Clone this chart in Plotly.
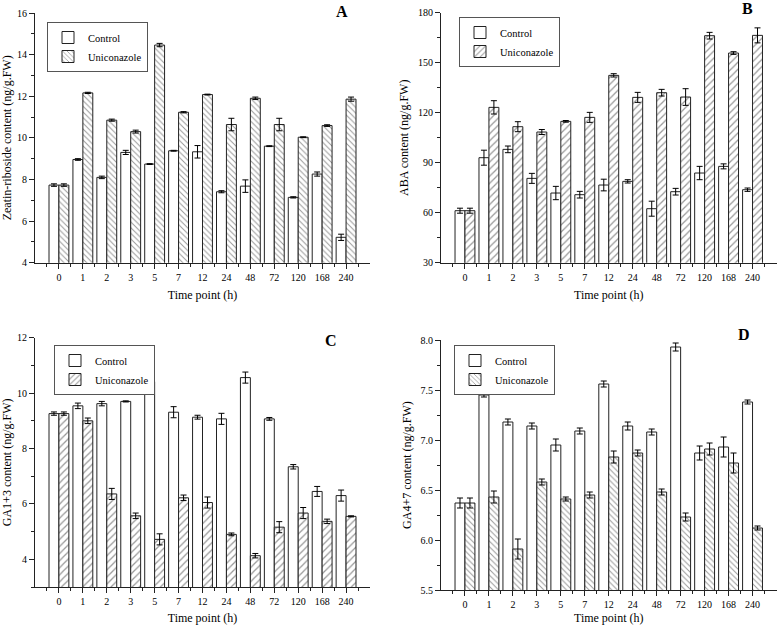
import numpy as np
import plotly.graph_objects as go

# time points (h)
times = ["0", "1", "2", "3", "5", "7", "12", "24", "48", "72", "120", "168", "240"]

# A: Zeatin-riboside
zr_ctrl = [7.73, 8.96, 8.10, 9.30, 8.74, 9.38, 9.33, 7.41, 7.68, 9.60, 7.14, 8.26, 5.22]
zr_ctrl_err = [0.06, 0.04, 0.06, 0.10, 0.02, 0.02, 0.30, 0.05, 0.30, 0.02, 0.03, 0.10, 0.15]
zr_uni = [7.73, 12.16, 10.85, 10.30, 14.46, 11.23, 12.08, 10.64, 11.90, 10.64, 10.03, 10.59, 11.86]
zr_uni_err = [0.06, 0.03, 0.05, 0.07, 0.08, 0.03, 0.02, 0.30, 0.06, 0.30, 0.02, 0.04, 0.10]

# B: ABA
aba_ctrl = [61.2, 93.0, 98.0, 80.6, 71.8, 70.8, 76.6, 78.8, 62.4, 72.6, 83.8, 87.8, 73.8]
aba_ctrl_err = [1.5, 4.5, 2.0, 3.0, 4.0, 2.0, 3.5, 1.0, 4.5, 2.0, 4.0, 1.5, 1.0]
aba_uni = [61.2, 123.2, 111.6, 108.4, 114.8, 117.2, 142.4, 129.2, 132.0, 129.4, 166.2, 155.8, 166.4]
aba_uni_err = [1.5, 4.0, 3.0, 1.5, 0.5, 3.0, 1.0, 3.0, 2.0, 5.0, 2.0, 0.8, 4.5]

# C: GA1+3
ga13_ctrl = [9.26, 9.54, 9.62, 9.70, 10.41, 9.31, 9.13, 9.07, 10.56, 9.07, 7.34, 6.45, 6.30]
ga13_ctrl_err = [0.06, 0.10, 0.08, 0.02, 0.08, 0.20, 0.07, 0.20, 0.20, 0.05, 0.08, 0.18, 0.20]
ga13_uni = [9.26, 9.00, 6.36, 5.57, 4.72, 6.22, 6.05, 4.90, 4.13, 5.16, 5.67, 5.37, 5.55]
ga13_uni_err = [0.06, 0.10, 0.20, 0.10, 0.20, 0.10, 0.20, 0.05, 0.08, 0.20, 0.20, 0.08, 0.02]

# D: GA4+7
ga47_ctrl = [6.37, 7.45, 7.18, 7.14, 6.95, 7.09, 7.56, 7.14, 7.08, 7.93, 6.87, 6.93, 7.38]
ga47_ctrl_err = [0.05, 0.02, 0.03, 0.03, 0.06, 0.03, 0.03, 0.04, 0.03, 0.04, 0.07, 0.10, 0.02]
ga47_uni = [6.37, 6.43, 5.91, 6.58, 6.41, 6.45, 6.83, 6.87, 6.48, 6.23, 6.91, 6.77, 6.12]
ga47_uni_err = [0.05, 0.06, 0.10, 0.03, 0.02, 0.03, 0.06, 0.03, 0.03, 0.04, 0.06, 0.10, 0.02]

xpos = np.arange(len(times))
FONT = "Liberation Serif, Times New Roman, serif"
W, H = 778, 625

def fx(px):
    return px / W

def fy(py):
    return 1 - py / H

panels = [
    dict(c=zr_ctrl, ce=zr_ctrl_err, u=zr_uni, ue=zr_uni_err,
         title="Zeatin-riboside content (ng/g.FW)", yr=[4, 16], t0=4, dt=2, fmt="",
         pat="\\", ps=4, xd=(35, 370), yd=(13, 262.7), letter="A",
         lp=(47, 22), lt=(342, 12)),
    dict(c=aba_ctrl, ce=aba_ctrl_err, u=aba_uni, ue=aba_uni_err,
         title="ABA content (ng/g.FW)", yr=[30, 180], t0=30, dt=30, fmt="",
         pat="/", ps=5, xd=(441, 776.5), yd=(12.7, 262.7), letter="B",
         lp=(459, 17), lt=(747, 9)),
    dict(c=ga13_ctrl, ce=ga13_ctrl_err, u=ga13_uni, ue=ga13_uni_err,
         title="GA1+3 content (ng/g.FW)", yr=[3, 12], t0=4, dt=2, fmt="",
         pat="/", ps=5, xd=(35, 370), yd=(337.7, 587), letter="C",
         lp=(54, 345), lt=(331, 340)),
    dict(c=ga47_ctrl, ce=ga47_ctrl_err, u=ga47_uni, ue=ga47_uni_err,
         title="GA4+7 content (ng/g.FW)", yr=[5.5, 8.0], t0=5.5, dt=0.5, fmt=".1f",
         pat="\\", ps=4, xd=(441, 776.5), yd=(340, 590), letter="D",
         lp=(454, 345), lt=(744, 334)),
]

fig = go.Figure()
layout = {}
annotations = []

for i, p in enumerate(panels, start=1):
    sfx = "" if i == 1 else str(i)
    xa, ya = "x" + sfx, "y" + sfx
    lg = "legend" + sfx
    err = dict(type="data", thickness=1, width=3, color="black")
    fig.add_trace(go.Bar(
        x=xpos, y=p["c"], name="Control", xaxis=xa, yaxis=ya, legend=lg,
        marker=dict(color="white", line=dict(color="#222", width=1)),
        error_y=dict(array=p["ce"], **err), offsetgroup="c",
    ))
    fig.add_trace(go.Bar(
        x=xpos, y=p["u"], name="Uniconazole", xaxis=xa, yaxis=ya, legend=lg,
        marker=dict(color="white", line=dict(color="#222", width=1),
                    pattern=dict(shape=p["pat"], fgcolor="#333", bgcolor="white",
                                 size=p["ps"], solidity=0.25)),
        error_y=dict(array=p["ue"], **err), offsetgroup="u",
    ))

    layout["xaxis" + sfx] = dict(
        domain=[fx(p["xd"][0]), fx(p["xd"][1])], anchor=ya, automargin=False,
        range=[-1, len(times)], tickmode="array", tickvals=xpos, ticktext=times,
        showline=True, linecolor="#222", linewidth=1, showgrid=False, zeroline=False,
        ticks="outside", ticklen=5, tickcolor="#222", ticklabeloverflow="allow",
        minor=dict(tickmode="array", tickvals=list(xpos - 0.5) + [len(times) - 0.5],
                   ticks="outside", ticklen=3, tickcolor="#222"),
        tickfont=dict(family=FONT, size=10, color="black"),
        title=dict(text="Time point (h)", font=dict(family=FONT, size=12, color="black"),
                   standoff=8),
    )
    layout["yaxis" + sfx] = dict(
        domain=[fy(p["yd"][1]), fy(p["yd"][0])], anchor=xa, automargin=False,
        range=p["yr"], dtick=p["dt"], tick0=p["t0"], tickformat=p["fmt"],
        showline=True, linecolor="#222", linewidth=1, showgrid=False, zeroline=False,
        ticks="outside", ticklen=5, tickcolor="#222", ticklabeloverflow="allow",
        minor=dict(dtick=p["dt"] / 2, tick0=p["t0"], ticks="outside", ticklen=3,
                   tickcolor="#222"),
        tickfont=dict(family=FONT, size=10, color="black"),
        title=dict(text=p["title"], font=dict(family=FONT, size=12, color="black"),
                   standoff=6),
    )
    layout[lg] = dict(
        x=fx(p["lp"][0]), y=fy(p["lp"][1]), xanchor="left", yanchor="top",
        bordercolor="#555", borderwidth=1, bgcolor="white",
        font=dict(family=FONT, size=10.5, color="black"),
        tracegroupgap=0, itemclick=False, itemdoubleclick=False,
    )
    annotations.append(dict(
        text="<b>" + p["letter"] + "</b>", x=fx(p["lt"][0]), y=fy(p["lt"][1]),
        xref="paper", yref="paper", showarrow=False, xanchor="center", yanchor="middle",
        font=dict(family=FONT, size=16, color="black"),
    ))

fig.update_layout(
    width=W, height=H,
    margin=dict(l=0, r=0, t=0, b=0),
    paper_bgcolor="white", plot_bgcolor="white",
    font=dict(family=FONT, color="black"),
    barmode="group", bargap=0.17, bargroupgap=0,
    annotations=annotations,
    **layout,
)
# drop the default page margin so the figure sits at the window's top-left corner
fig.write_html("out.html", config={"displayModeBar": False},
               post_script="document.body.style.margin='0px';")
